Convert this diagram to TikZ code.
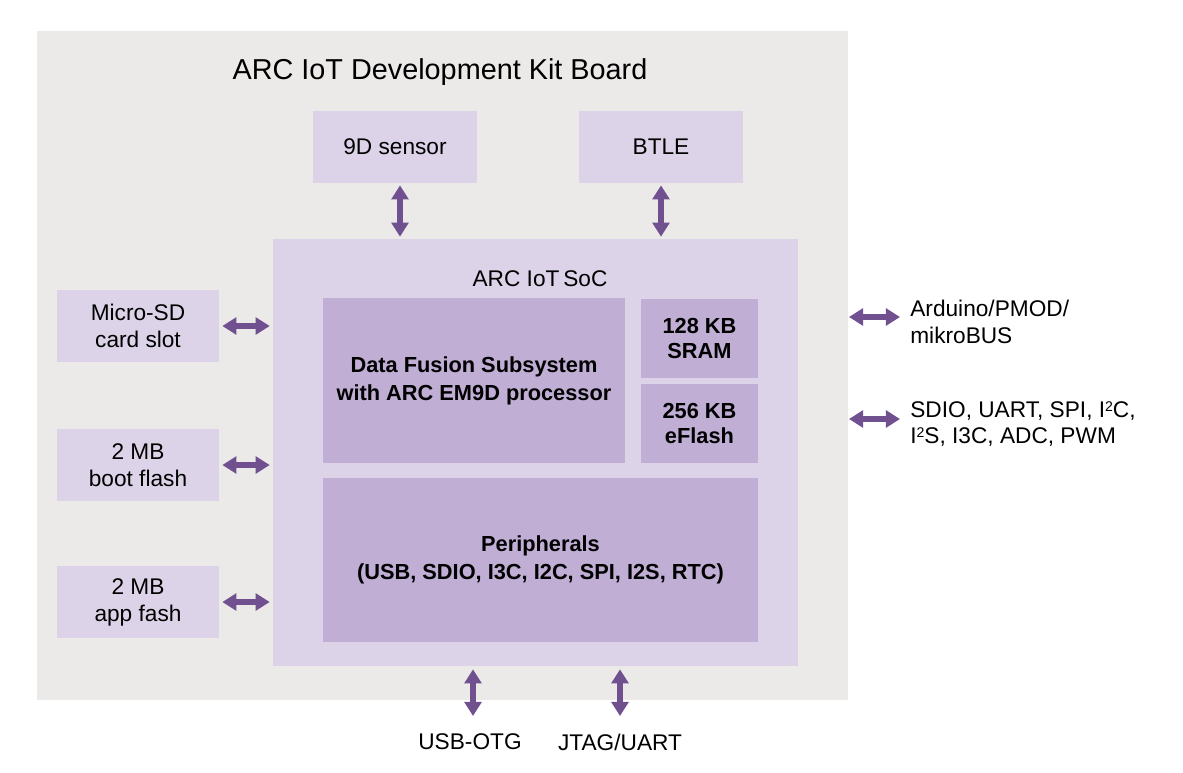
\documentclass[tikz,border=0pt]{standalone}
\usepackage{fontspec}
\setmainfont{Liberation Sans}
\usetikzlibrary{arrows.meta,positioning}

\definecolor{boardgray}{HTML}{EBEAE9}
\definecolor{lilac}{HTML}{DCD3E8}
\definecolor{mauve}{HTML}{C0AED5}
\definecolor{arrowpurple}{HTML}{70508F}

\newcommand{\supsm}[1]{\raisebox{0.55ex}{\fontsize{8}{8}\selectfont #1}}

\tikzset{
  blk/.style={fill=lilac, align=center, inner sep=0pt, font=\fontsize{12.9}{15.3}\selectfont},
  core/.style={blk, fill=mauve, font=\fontsize{12.4}{16}\selectfont\bfseries},
  memblk/.style={core, font=\fontsize{12.4}{14.4}\selectfont\bfseries},
  extlabel/.style={inner sep=0pt, align=left, font=\fontsize{12.9}{15}\selectfont},
  biarrow/.style={draw=arrowpurple, line width=3.4pt,
    {Triangle[width=9.5pt,length=8pt]}-{Triangle[width=9.5pt,length=8pt]}},
}

\begin{document}
\begin{tikzpicture}[x=0.02cm, y=-0.02cm]

  \useasboundingbox (0,0) rectangle (1183,772);

  % board and its title
  \node[fill=boardgray, inner sep=0pt, minimum width=16.22cm, minimum height=13.38cm] (board) at (442.5,365.5) {};
  \node[font=\fontsize{16.4}{19}\selectfont] (title) at (440,72) {ARC IoT Development Kit Board};

  % parts on the board
  \node[blk, minimum width=3.28cm, minimum height=1.44cm] (sensor) at (395,147) {9D sensor};
  \node[blk, minimum width=3.28cm, minimum height=1.44cm] (btle) at (661,147) {BTLE};
  \node[blk, minimum width=3.24cm, minimum height=1.44cm] (sdslot) at (138,326) {Micro-SD\\card slot};
  \node[blk, minimum width=3.24cm, minimum height=1.44cm] (bootflash) at (138,465) {2 MB\\boot flash};
  \node[blk, minimum width=3.24cm, minimum height=1.44cm] (appflash) at (138,602) {2 MB\\app fash};

  % the SoC
  \node[blk, minimum width=10.5cm, minimum height=8.54cm] (soc) at (535.5,452.5) {};
  \node[blk, fill=none] (soclabel) at (540,279) {ARC IoT\,SoC};
  \node[core, minimum width=6.04cm, minimum height=3.3cm] (dfs) at (474,380.5) {Data Fusion Subsystem\\with ARC EM9D processor};
  \node[memblk, minimum width=2.34cm, minimum height=1.58cm] (sram) at (699.5,338.5) {128 KB\\SRAM};
  \node[memblk, minimum width=2.34cm, minimum height=1.58cm] (eflash) at (699.5,423.5) {256 KB\\eFlash};
  \node[core, minimum width=8.7cm, minimum height=3.28cm] (periph) at (540.5,560) {Peripherals\\(USB, SDIO, I3C, I2C, SPI, I2S, RTC)};

  % outside connections
  \node[extlabel, anchor=west] (arduino) at (910,322) {Arduino/PMOD/\\mikroBUS};
  \node[extlabel, anchor=west] (buses) at (910,424) {SDIO, UART, SPI, I\supsm{2}C,\\I\supsm{2}S, I3C, ADC, PWM};
  \node[extlabel] (usbotg) at (470,742) {USB-OTG};
  \node[extlabel] (jtag) at (620,742) {JTAG/UART};
  \coordinate (ardin) at (849,317);
  \coordinate (busin) at (849,419);
  \coordinate (usbend) at (473,716);
  \coordinate (jtagend) at (620,716);

  % arrows
  \draw[biarrow, shorten <=0.04cm, shorten >=0.04cm] ([xshift=0.1cm]sensor.south) -- ([xshift=0.1cm]sensor.south |- soc.north);
  \draw[biarrow, shorten <=0.04cm, shorten >=0.04cm] (btle.south) -- (btle.south |- soc.north);
  \draw[biarrow, shorten <=0.06cm, shorten >=0.06cm] (sdslot.east) -- (sdslot.east -| soc.west);
  \draw[biarrow, shorten <=0.06cm, shorten >=0.06cm] (bootflash.east) -- (bootflash.east -| soc.west);
  \draw[biarrow, shorten <=0.06cm, shorten >=0.06cm] (appflash.east) -- (appflash.east -| soc.west);
  \draw[biarrow, shorten <=0.06cm] (soc.south -| usbend) -- (usbend);
  \draw[biarrow, shorten <=0.06cm] (soc.south -| jtagend) -- (jtagend);
  \draw[biarrow, shorten >=0.2cm] (ardin) -- (ardin -| arduino.west);
  \draw[biarrow, shorten >=0.2cm] (busin) -- (busin -| buses.west);

\end{tikzpicture}
\end{document}
